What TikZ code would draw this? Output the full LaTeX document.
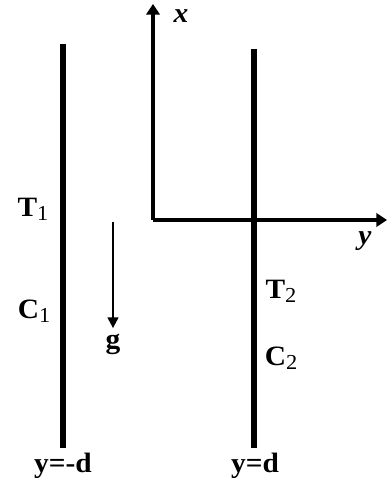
\documentclass[tikz,border=0pt]{standalone}
\usepackage{fontspec}
\usepackage{tikz}
\usetikzlibrary{arrows.meta}
\newfontfamily\lblfont[FakeStretch=1.05]{Liberation Serif}
\tikzset{
  wall/.style={line width=4.5pt},
  ax/.style={line width=2.4pt,-{Triangle[length=8pt,width=10pt]}},
  grav/.style={line width=1.5pt,-{Triangle[length=8pt,width=8pt]},shorten >=4pt},
  lbl/.style={font=\lblfont\fontsize{21}{24}\selectfont\bfseries,inner sep=0pt},
  axl/.style={lbl,font=\lblfont\fontsize{21}{24}\selectfont\bfseries\itshape}
}
\newcommand{\lowsub}[1]{\raisebox{-0.3ex}{\mdseries\fontsize{16}{16}\selectfont #1}}

\begin{document}
\begin{tikzpicture}[x=0.75pt,y=-0.75pt]
\useasboundingbox (0,0) rectangle (387,484);
% axes
\coordinate (o) at (153,220); \coordinate (xtip) at (153,4); \coordinate (ytip) at (387,220);
\draw[ax] (o) -- (xtip); \draw[ax] (o) -- (ytip);
\node[axl] (xl) at (181,16) {x}; \node[axl] (yl) at (365,241) {y};
% walls
\coordinate (w1a) at (63,44); \coordinate (w1b) at (63,448); \draw[wall] (w1a) -- (w1b);
\coordinate (w2a) at (254,49); \coordinate (w2b) at (254,448); \draw[wall] (w2a) -- (w2b);
\node[lbl] (wl1) at (63,466) {y=-d}; \node[lbl] (wl2) at (255,466) {y=d};
% labels
\node[lbl] (t1) at (33,209) {T\lowsub{1}}; \node[lbl] (c1) at (34,311) {C\lowsub{1}};
\node[lbl] (t2) at (281,291) {T\lowsub{2}}; \node[lbl] (c2) at (281,358) {C\lowsub{2}};
% gravity
\coordinate (ga) at (113,222); \node[lbl] (g) at (113,344) {g};
\draw[grav] (ga) -- (g.north);
\end{tikzpicture}
\end{document}
